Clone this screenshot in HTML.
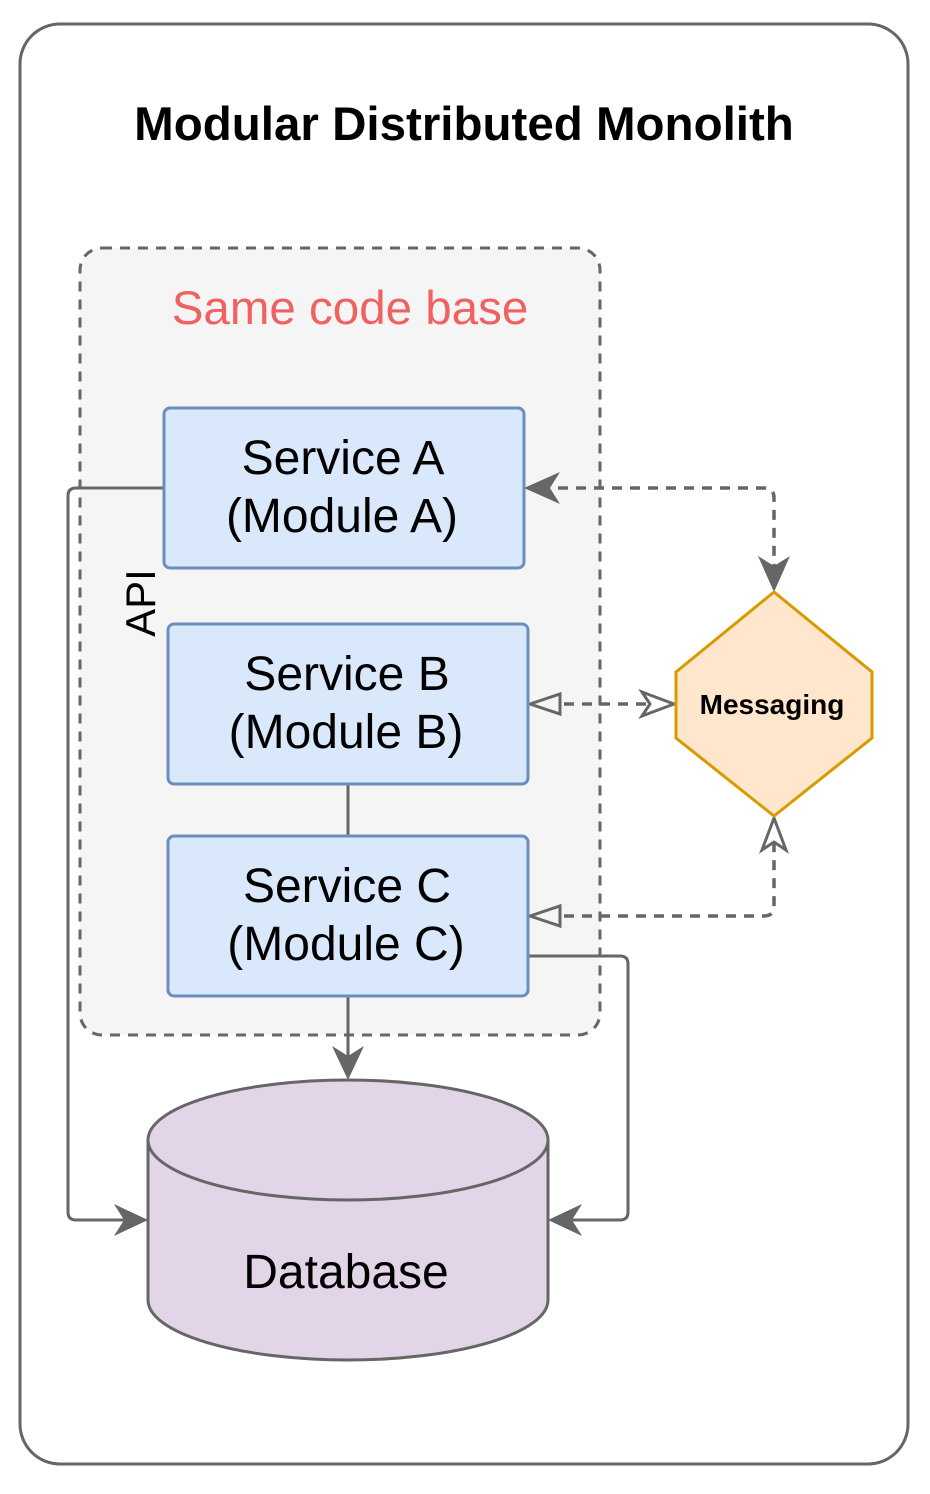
<!DOCTYPE html>
<html><head><style>html,body{margin:0;padding:0;background:#fff}svg{display:block}</style></head>
<body>
<svg width="930" height="1494" viewBox="0 0 930 1494" xmlns="http://www.w3.org/2000/svg" font-family="Liberation Sans, Arial, sans-serif">
<rect x="20" y="24" width="888" height="1440" rx="40" fill="#fff" stroke="#666" stroke-width="3"/>
<text x="464" y="140" text-anchor="middle" font-size="47.5" font-weight="bold" fill="#000">Modular Distributed Monolith</text>
<rect x="80" y="248" width="520" height="787" rx="22" fill="#f5f5f5" stroke="#666" stroke-width="3" stroke-dasharray="10,8"/>
<text x="350" y="324" text-anchor="middle" font-size="47.5" fill="#f06262">Same code base</text>
<g stroke="#666" stroke-width="3" fill="none">
<path d="M164 488 H76 Q68 488 68 496 V1212 Q68 1220 76 1220 H140"/>
<path d="M528 956 H620 Q628 956 628 964 V1212 Q628 1220 620 1220 H556"/>
<path d="M348 784 V836"/>
<path d="M348 996 V1072"/>
</g>
<g fill="#666">
<path d="M148 1220 L114 1204 L124 1220 L114 1236Z"/>
<path d="M548 1220 L582 1204 L572 1220 L582 1236Z"/>
<path d="M348 1080 L332 1046 L348 1056 L364 1046Z"/>
</g>
<g stroke="#666" stroke-width="3.5" fill="none" stroke-dasharray="10,8">
<path d="M540 488 H764 Q774 488 774 498 V584"/>
<path d="M546 704 H662"/>
<path d="M546 916 H764 Q774 916 774 906 V832"/>
</g>
<g fill="#666">
<path d="M524 488 L560 472 L550 488 L560 504Z"/>
<path d="M774 592 L758 556 L774 566 L790 556Z"/>
</g>
<g fill="#f5f5f5" stroke="#666" stroke-width="3">
<path d="M530 704 L560 694 L560 714Z"/>
<path d="M674 704 L642 692 L650 704 L642 716Z" fill="#fff"/>
<path d="M530 916 L560 906 L560 926Z"/>
<path d="M774 818 L762 850 L774 842 L786 850Z" fill="#fff"/>
</g>
<g fill="#dae8fc" stroke="#6c8ebf" stroke-width="3">
<rect x="164" y="408" width="360" height="160" rx="6"/>
<rect x="168" y="624" width="360" height="160" rx="6"/>
<rect x="168" y="836" width="360" height="160" rx="6"/>
</g>
<g font-size="48" text-anchor="middle" fill="#000">
<text x="343" y="474">Service A</text><text x="342" y="532">(Module A)</text>
<text x="347" y="690">Service B</text><text x="346" y="748">(Module B)</text>
<text x="347" y="902">Service C</text><text x="346" y="960">(Module C)</text>
</g>
<text transform="translate(155,603) rotate(-90)" text-anchor="middle" font-size="42" fill="#000">API</text>
<polygon points="774,592 872,672 872,738 774,816 676,738 676,672" fill="#ffe6cc" stroke="#d79b00" stroke-width="3"/>
<text x="772" y="714" text-anchor="middle" font-size="28" font-weight="bold" fill="#000">Messaging</text>
<path d="M148 1140 V1300 A200 60 0 0 0 548 1300 V1140" fill="#e1d5e7" stroke="#666" stroke-width="3"/>
<ellipse cx="348" cy="1140" rx="200" ry="60" fill="#e1d5e7" stroke="#666" stroke-width="3"/>
<text x="346" y="1288" text-anchor="middle" font-size="48" fill="#000">Database</text>
</svg>
</body></html>
